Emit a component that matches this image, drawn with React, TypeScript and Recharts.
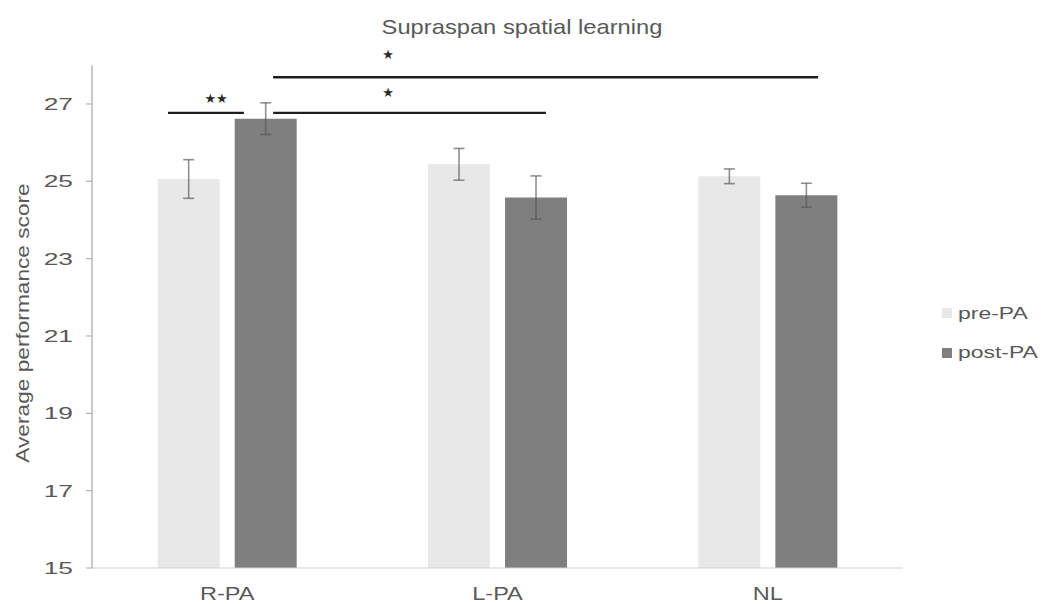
import React from 'react';
import {
  BarChart, Bar, XAxis, YAxis, ErrorBar, Legend, ReferenceLine, ReferenceDot, Customized,
} from 'recharts';

const categories = ['R-PA', 'L-PA', 'NL'];
const preValues = [25.06, 25.44, 25.13];
const postValues = [26.62, 24.58, 24.64];
const preErrors = [0.5, 0.41, 0.19];
const postErrors = [0.41, 0.56, 0.31];
const yTicks = [15, 17, 19, 21, 23, 25, 27];
const seriesNames = ['pre-PA', 'post-PA'];
const titleText = 'Supraspan spatial learning';
const yLabelText = 'Average performance score';

// significance annotations, in data units (numeric helper axis 0..3 spans the 3 categories)
const bracketLines = [
  { x1: 0.281, x2: 0.562, y: 26.77 },
  { x1: 0.67, x2: 1.679, y: 26.77 },
  { x1: 0.67, x2: 2.686, y: 27.69 },
];
const starLabels = [
  { x: 0.459, y: 27.15, text: '★★' },
  { x: 1.095, y: 27.29, text: '★' },
  { x: 1.095, y: 28.27, text: '★' },
];

const data = categories.map((c, i) => ({
  category: c,
  pos: i + 0.5,
  pre: preValues[i],
  post: postValues[i],
  preErr: preErrors[i],
  postErr: postErrors[i],
}));

const FONT = '"Liberation Sans", Arial, Helvetica, sans-serif';
const TEXT = '#595959';
const PRE = '#e8e8e8';
const POST = '#7f7f7f';

function StretchText(props: any) {
  const { x, y, sx, size, anchor, children, fill, rotate } = props;
  const tr = `translate(${x},${y})${rotate ? ` rotate(${rotate})` : ''} scale(${sx},1)`;
  return (
    <text transform={tr} textAnchor={anchor} fontSize={size} fontFamily={FONT} fill={fill || TEXT}>
      {children}
    </text>
  );
}

const YTick = (props: any) => {
  const { x, y, payload } = props;
  return (
    <StretchText x={x} y={y + 6} sx={1.55} size={17} anchor="end">
      {payload.value}
    </StretchText>
  );
};

const XTick = (props: any) => {
  const { x, y, payload } = props;
  return (
    <StretchText x={x} y={y + 31.5} sx={1.24} size={19} anchor="middle">
      {payload.value}
    </StretchText>
  );
};

const LegendContent = (props: any) => {
  const payload = props.payload || [];
  const ordered = seriesNames
    .map((n) => payload.find((p: any) => p.value === n))
    .filter(Boolean);
  return (
    <svg width={130} height={75} style={{ display: 'block' }}>
      {ordered.map((p: any, i: number) => (
        <g key={i}>
          <rect x={12} y={13 + i * 40} width={10} height={10} fill={p.color} />
          <StretchText x={28} y={24 + i * 39} sx={1.35} size={17} anchor="start">
            {p.value}
          </StretchText>
        </g>
      ))}
    </svg>
  );
};

const Title = () => (
  <StretchText x={522} y={34} sx={1.13} size={21} anchor="middle">
    {titleText}
  </StretchText>
);

const YLabel = () => (
  <StretchText x={28.5} y={323} rotate={-90} sx={1.26} size={18} anchor="middle">
    {yLabelText}
  </StretchText>
);

const Star = (text: string) => (props: any) => (
  <text
    x={props.cx}
    y={props.cy}
    textAnchor="middle"
    dominantBaseline="central"
    fontSize={13}
    fontFamily='"DejaVu Sans", sans-serif'
    fill="#2a2a2a"
  >
    {text}
  </text>
);

export default function App() {
  return (
    <div style={{ position: 'absolute', left: 0, top: 0, width: 1057, height: 604, background: '#fff' }}>
      <BarChart
        width={1057}
        height={604}
        data={data}
        margin={{ top: 65.3, right: 154, bottom: 0, left: 0 }}
        barCategoryGap="24.3%"
        barGap={15}
      >
        <XAxis
          dataKey="category"
          height={36}
          tickSize={0}
          tickMargin={0}
          tickLine={false}
          axisLine={{ stroke: '#d0d0d0', strokeWidth: 1.2 }}
          tick={<XTick />}
          interval={0}
        />
        <XAxis xAxisId="num" dataKey="pos" type="number" domain={[0, 3]} allowDataOverflow hide />
        <YAxis
          type="number"
          domain={[15, 28]}
          ticks={yTicks}
          width={92}
          tickSize={6}
          tickMargin={13}
          tickLine={{ stroke: '#a6a6a6' }}
          axisLine={{ stroke: '#a6a6a6', strokeWidth: 1.2 }}
          tick={<YTick />}
          interval={0}
        />
        <Bar dataKey="pre" name={seriesNames[0]} fill={PRE} isAnimationActive={false}>
          <ErrorBar dataKey="preErr" width={5.5} strokeWidth={1.6} stroke="#555" strokeOpacity={0.65} direction="y" />
        </Bar>
        <Bar dataKey="post" name={seriesNames[1]} fill={POST} isAnimationActive={false}>
          <ErrorBar dataKey="postErr" width={5.5} strokeWidth={1.6} stroke="#555" strokeOpacity={0.65} direction="y" />
        </Bar>
        {bracketLines.map((b, i) => (
          <ReferenceLine
            key={`b${i}`}
            xAxisId="num"
            segment={[{ x: b.x1, y: b.y }, { x: b.x2, y: b.y }]}
            stroke="#1e1e1e"
            strokeWidth={2.4}
            ifOverflow="visible"
          />
        ))}
        {starLabels.map((s, i) => (
          <ReferenceDot
            key={`s${i}`}
            xAxisId="num"
            x={s.x}
            y={s.y}
            r={0}
            ifOverflow="visible"
            shape={Star(s.text)}
          />
        ))}
        <Legend
          layout="vertical"
          align="center"
          verticalAlign="middle"
          content={<LegendContent />}
          wrapperStyle={{ position: 'absolute', left: 930, top: 295, width: 130, height: 75 }}
        />
        <Customized component={<Title />} />
        <Customized component={<YLabel />} />
      </BarChart>
    </div>
  );
}
